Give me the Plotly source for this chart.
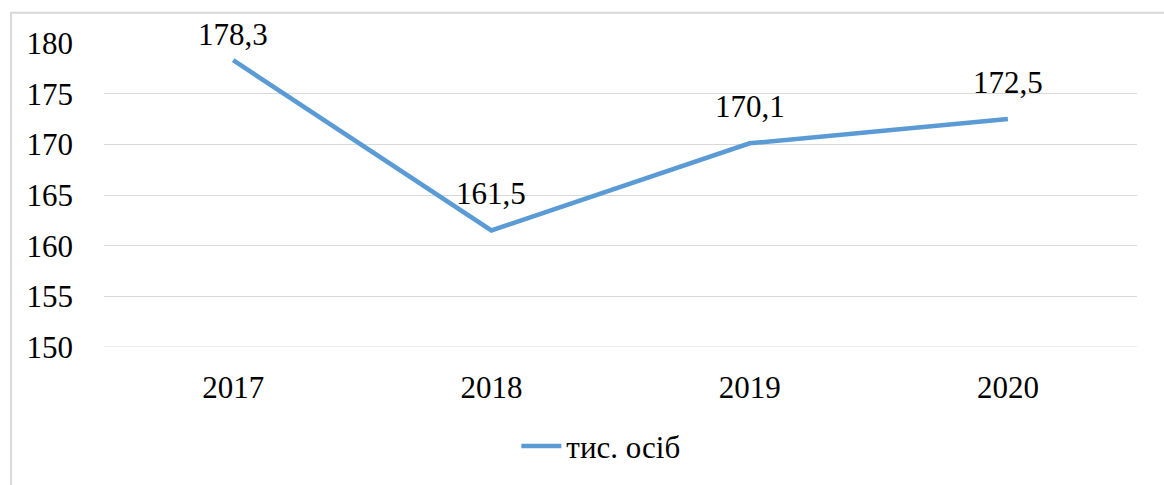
import plotly.graph_objects as go

years = ["2017", "2018", "2019", "2020"]
values = [178.3, 161.5, 170.1, 172.5]
labels = ["178,3", "161,5", "170,1", "172,5"]
series_name = "тис. осіб"
y_ticks = [150, 155, 160, 165, 170, 175, 180]

W, H = 1164, 485
L, R, T, B = 104, 27, 43, 136
FONT = "Liberation Serif, Times New Roman, serif"
FS = 31

fig = go.Figure()
fig.add_trace(go.Scatter(
    x=years, y=values, mode="lines", name=series_name,
    line=dict(color="#5B9BD5", width=4.5),
))

for i, (y, t) in enumerate(zip(values, labels)):
    fig.add_annotation(
        x=i, y=y, text=t, showarrow=False, xref="x", yref="y",
        yshift=26 if i == 0 else 37,
        font=dict(family=FONT, size=FS, color="#000000"),
    )

pw, ph = W - L - R, H - T - B
fig.add_shape(
    type="rect", xref="paper", yref="paper",
    x0=(11 - L) / pw, x1=(W + 20 - L) / pw,
    y0=(H - B - (H + 20)) / ph, y1=(H - B - 12.5) / ph,
    line=dict(color="#d9d9d9", width=2), fillcolor="rgba(0,0,0,0)", layer="below",
)
# bottom gridline (at range edge)
fig.add_shape(
    type="line", xref="paper", yref="y", x0=0, x1=1, y0=y_ticks[0], y1=y_ticks[0],
    line=dict(color="#d9d9d9", width=1), layer="below",
)

fig.update_layout(
    width=W, height=H,
    margin=dict(l=L, r=R, t=T, b=B, pad=0),
    plot_bgcolor="white", paper_bgcolor="white",
    font=dict(family=FONT, size=FS, color="#000000"),
    showlegend=True,
    legend=dict(
        orientation="h", x=0.481, xanchor="center", y=(H - B - 449) / ph, yanchor="middle",
        font=dict(family=FONT, size=FS), itemwidth=40,
    ),
    xaxis=dict(
        type="category", range=[-0.5, 3.5], showgrid=False, showline=False,
        ticks="", ticklabelstandoff=19, tickfont=dict(family=FONT, size=FS),
    ),
    yaxis=dict(
        range=[150, 180], tickvals=y_ticks, showgrid=True, gridcolor="#d9d9d9",
        gridwidth=1, zeroline=False, showline=False, ticks="",
        ticklabelstandoff=30, tickfont=dict(family=FONT, size=FS),
    ),
)

fig.write_html(
    "out.html",
    config={"displayModeBar": False},
    post_script="document.body.style.margin='0';document.body.style.overflow='hidden';",
)
